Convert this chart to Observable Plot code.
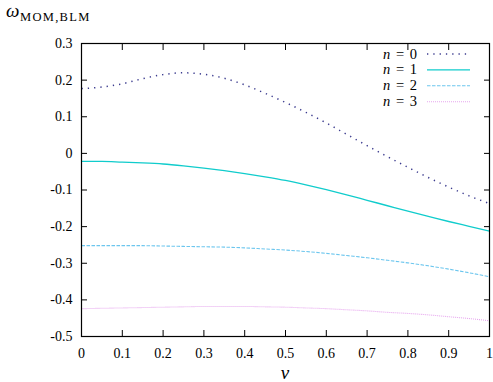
<!DOCTYPE html>
<html>
<head>
<meta charset="utf-8">
<script src="https://cdn.jsdelivr.net/npm/d3@7"></script>
<script src="https://cdn.jsdelivr.net/npm/@observablehq/plot@0.6"></script>
<style>
  html, body { margin: 0; padding: 0; background: white; }
  #chart svg { display: block; }
  #chart svg text, #chart svg tspan { font-family: "Liberation Serif", "DejaVu Serif", serif !important; }
</style>
</head>
<body>
<div id="chart"></div>
<script>
// ---- data ----
const nu = [0, 0.05, 0.1, 0.15, 0.2, 0.25, 0.3, 0.35, 0.4, 0.45, 0.5,
            0.55, 0.6, 0.65, 0.7, 0.75, 0.8, 0.85, 0.9, 0.95, 1];
const omegaN0 = [0.177, 0.181, 0.190, 0.204, 0.215, 0.220, 0.216, 0.205, 0.187, 0.164, 0.139,
                 0.112, 0.083, 0.052, 0.021, -0.009, -0.038, -0.066, -0.092, -0.116, -0.137];
const omegaN1 = [-0.022, -0.022, -0.024, -0.026, -0.029, -0.034, -0.040, -0.047, -0.055, -0.064, -0.074,
                 -0.086, -0.099, -0.113, -0.128, -0.143, -0.158, -0.172, -0.186, -0.199, -0.212];
const omegaN2 = [-0.252, -0.252, -0.252, -0.252, -0.253, -0.254, -0.255, -0.256, -0.258, -0.261, -0.264,
                 -0.268, -0.273, -0.279, -0.285, -0.292, -0.299, -0.307, -0.316, -0.326, -0.337];
const omegaN3 = [-0.424, -0.423, -0.422, -0.421, -0.420, -0.419, -0.418, -0.418, -0.418, -0.419, -0.420,
                 -0.422, -0.424, -0.427, -0.430, -0.434, -0.437, -0.441, -0.446, -0.451, -0.457];
const seriesNames = ["0", "1", "2", "3"];
const xTicks = [0, 0.1, 0.2, 0.3, 0.4, 0.5, 0.6, 0.7, 0.8, 0.9, 1];
const xTickLabels = ["0", "0.1", "0.2", "0.3", "0.4", "0.5", "0.6", "0.7", "0.8", "0.9", "1"];
const yTicks = [-0.5, -0.4, -0.3, -0.2, -0.1, 0, 0.1, 0.2, 0.3];
const yTickLabels = ["-0.5", "-0.4", "-0.3", "-0.2", "-0.1", "0", "0.1", "0.2", "0.3"];
const titleMain = "ω";
const titleSub = "MOM,BLM";
const xLabel = "ν";

// ---- styles ----
const styles = [
  {stroke: "#3a3a8e", strokeWidth: 1.5, strokeDasharray: "1.3,5", strokeLinecap: "butt"},
  {stroke: "#10cccc", strokeWidth: 1.3, strokeDasharray: null, strokeLinecap: "butt"},
  {stroke: "#6cc6ee", strokeWidth: 1.1, strokeDasharray: "3.5,1.5", strokeLinecap: "butt"},
  {stroke: "#e6a6ee", strokeWidth: 1.1, strokeDasharray: "1,1", strokeLinecap: "butt"}
];
const allSeries = [omegaN0, omegaN1, omegaN2, omegaN3];
const rows = [];
allSeries.forEach((vals, i) => vals.forEach((v, j) => rows.push({nu: nu[j], w: v, n: seriesNames[i]})));

const W = 493, H = 382, ML = 81, MR = 4, MT = 43, MB = 46;
const font = "Liberation Serif, DejaVu Serif, serif";
const fmtX = d => xTickLabels[xTicks.findIndex(t => Math.abs(t - d) < 1e-9)];
const fmtY = d => yTickLabels[yTicks.findIndex(t => Math.abs(t - d) < 1e-9)];

const lineMarks = seriesNames.map((name, i) =>
  Plot.line(rows.filter(r => r.n === name), {x: "nu", y: "w", curve: "monotone-x", ...styles[i]}));

const chart = Plot.plot({
  width: W, height: H,
  marginLeft: ML, marginRight: MR, marginTop: MT, marginBottom: MB,
  style: {fontFamily: font, fontSize: "14px", background: "white", color: "black", overflow: "visible"},
  x: {domain: [0, 1], label: null},
  y: {domain: [-0.5, 0.3], label: null},
  marks: [
    ...lineMarks,
    Plot.axisX(xTicks, {anchor: "bottom", tickSize: -6, tickPadding: 18, tickFormat: fmtX, label: null}),
    Plot.axisX(xTicks, {anchor: "top", tickSize: -6, tickFormat: () => "", label: null}),
    Plot.axisY(yTicks, {anchor: "left", tickSize: -6, tickPadding: 15, tickFormat: fmtY, label: null}),
    Plot.axisY(yTicks, {anchor: "right", tickSize: -6, tickFormat: () => "", label: null}),
    Plot.frame({stroke: "black", strokeWidth: 1.2})
  ]
});
document.getElementById("chart").appendChild(chart);

// ---- title, axis label, legend ----
const svg = d3.select(chart);
svg.append("text").attr("x", 6).attr("y", 17).attr("text-anchor", "start")
  .attr("font-style", "italic").attr("font-size", 19)
  .attr("fill", "black").text(titleMain);
svg.append("text").attr("x", 20).attr("y", 21).attr("text-anchor", "start")
  .attr("font-size", 12.5).attr("letter-spacing", 1.3).attr("fill", "black").text(titleSub);
svg.append("text").attr("x", ML + (W - ML - MR) / 2).attr("y", 379)
  .attr("text-anchor", "middle")
  .attr("font-style", "italic").attr("font-size", 19)
  .attr("fill", "black").text(xLabel);

const legendRight = 417, sampleX1 = 427, sampleX2 = 470, rowY0 = 54, rowStep = 15.9;
seriesNames.forEach((name, i) => {
  const cy = rowY0 + i * rowStep;
  const t = svg.append("text").attr("x", legendRight).attr("y", cy + 4.5)
    .attr("text-anchor", "end").attr("font-size", 14.5).attr("word-spacing", 2).attr("fill", "black");
  t.append("tspan").attr("font-style", "italic").text("n");
  t.append("tspan").text(" = " + name);
  const s = styles[i];
  svg.append("line").attr("x1", sampleX1).attr("x2", sampleX2).attr("y1", cy).attr("y2", cy)
    .attr("stroke", s.stroke).attr("stroke-width", s.strokeWidth)
    .attr("stroke-dasharray", s.strokeDasharray);
});
</script>
</body>
</html>
